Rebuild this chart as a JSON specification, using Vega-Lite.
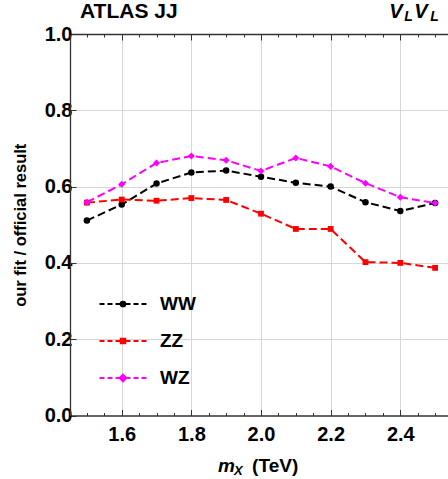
{
  "$schema": "https://vega.github.io/schema/vega-lite/v6.json",
  "width": 378,
  "height": 381.5,
  "autosize": "none",
  "padding": {"left": 70, "top": 34, "right": 0, "bottom": 64},
  "background": "white",
  "config": {"view": {"stroke": null}, "text": {"font": "Liberation Sans", "fontWeight": "bold", "color": "black"}},
  "data": {"values": [
    {"series": "WW", "mx": 1.5, "ratio": 0.511},
    {"series": "WW", "mx": 1.6, "ratio": 0.553},
    {"series": "WW", "mx": 1.7, "ratio": 0.608},
    {"series": "WW", "mx": 1.8, "ratio": 0.637},
    {"series": "WW", "mx": 1.9, "ratio": 0.642},
    {"series": "WW", "mx": 2.0, "ratio": 0.626},
    {"series": "WW", "mx": 2.1, "ratio": 0.610},
    {"series": "WW", "mx": 2.2, "ratio": 0.600},
    {"series": "WW", "mx": 2.3, "ratio": 0.559},
    {"series": "WW", "mx": 2.4, "ratio": 0.536},
    {"series": "WW", "mx": 2.5, "ratio": 0.557},
    {"series": "ZZ", "mx": 1.5, "ratio": 0.558},
    {"series": "ZZ", "mx": 1.6, "ratio": 0.566},
    {"series": "ZZ", "mx": 1.7, "ratio": 0.563},
    {"series": "ZZ", "mx": 1.8, "ratio": 0.570},
    {"series": "ZZ", "mx": 1.9, "ratio": 0.565},
    {"series": "ZZ", "mx": 2.0, "ratio": 0.529},
    {"series": "ZZ", "mx": 2.1, "ratio": 0.489},
    {"series": "ZZ", "mx": 2.2, "ratio": 0.489},
    {"series": "ZZ", "mx": 2.3, "ratio": 0.402},
    {"series": "ZZ", "mx": 2.4, "ratio": 0.400},
    {"series": "ZZ", "mx": 2.5, "ratio": 0.387},
    {"series": "WZ", "mx": 1.5, "ratio": 0.559},
    {"series": "WZ", "mx": 1.6, "ratio": 0.606},
    {"series": "WZ", "mx": 1.7, "ratio": 0.662},
    {"series": "WZ", "mx": 1.8, "ratio": 0.680},
    {"series": "WZ", "mx": 1.9, "ratio": 0.669},
    {"series": "WZ", "mx": 2.0, "ratio": 0.641},
    {"series": "WZ", "mx": 2.1, "ratio": 0.675},
    {"series": "WZ", "mx": 2.2, "ratio": 0.653},
    {"series": "WZ", "mx": 2.3, "ratio": 0.609},
    {"series": "WZ", "mx": 2.4, "ratio": 0.572},
    {"series": "WZ", "mx": 2.5, "ratio": 0.557}
  ]},
  "resolve": {"axis": {"x": "independent"}},
  "layer": [
    {
      "mark": {"type": "line", "strokeWidth": 2, "strokeDash": [8, 4]},
      "encoding": {
        "x": {"field": "mx", "type": "quantitative",
          "scale": {"domain": [1.4515, 2.537], "nice": false, "zero": false},
          "axis": {
            "orient": "bottom",
            "values": [1.5,1.55,1.6,1.65,1.7,1.75,1.8,1.85,1.9,1.95,2.0,2.05,2.1,2.15,2.2,2.25,2.3,2.35,2.4,2.45,2.5],
            "labelExpr": "abs(datum.value*5-round(datum.value*5))<0.001 ? format(datum.value,'.1f') : ''",
            "labelFont": "Liberation Sans", "labelFontSize": 20, "labelFontWeight": "bold", "labelColor": "black",
            "labelPadding": 15, "labelOverlap": false, "labelFlush": false,
            "tickSize": {"condition": {"test": "abs(datum.value*5-round(datum.value*5))<0.001", "value": -6}, "value": -3},
            "tickColor": "#333", "tickWidth": 1,
            "domainColor": "#333", "domainWidth": 1.3,
            "grid": true, "gridColor": "#d6d6d6", "gridWidth": 1,
            "gridOpacity": {"condition": {"test": "abs(datum.value*5-round(datum.value*5))<0.001", "value": 1}, "value": 0},
            "title": null
          }},
        "y": {"field": "ratio", "type": "quantitative",
          "scale": {"domain": [0, 1], "nice": false, "zero": false},
          "axis": {
            "orient": "left",
            "values": [0,0.05,0.1,0.15,0.2,0.25,0.3,0.35,0.4,0.45,0.5,0.55,0.6,0.65,0.7,0.75,0.8,0.85,0.9,0.95,1],
            "labelExpr": "abs(datum.value*5-round(datum.value*5))<0.001 ? format(datum.value,'.1f') : ''",
            "labelFont": "Liberation Sans", "labelFontSize": 20, "labelFontWeight": "bold", "labelColor": "black",
            "labelPadding": 4, "labelOverlap": false, "labelFlush": false,
            "tickSize": {"condition": {"test": "abs(datum.value*5-round(datum.value*5))<0.001", "value": -6}, "value": -3},
            "tickColor": "#333", "tickWidth": 1,
            "domainColor": "#333", "domainWidth": 1.3,
            "grid": true, "gridColor": "#d6d6d6", "gridWidth": 1,
            "gridOpacity": {"condition": {"test": "abs(datum.value*5-round(datum.value*5))<0.001 && datum.value>0.01 && datum.value<0.99", "value": 1}, "value": 0},
            "title": "our fit / official result",
            "titleFont": "Liberation Sans", "titleFontSize": 16.5, "titleFontWeight": "bold", "titleColor": "black",
            "titleX": -42, "titleY": 190.75, "titleAngle": -90, "titleBaseline": "bottom", "titleAlign": "center"
          }},
        "color": {"field": "series", "type": "nominal",
          "scale": {"domain": ["WW", "ZZ", "WZ"], "range": ["black", "#ff0000", "#ff00ff"]},
          "legend": {
            "orient": "none", "legendX": 40, "legendY": 257, "title": null, "padding": 0,
            "symbolSize": 552, "rowPadding": 14, "labelOffset": 24,
            "labelFont": "Liberation Sans", "labelFontWeight": "bold", "labelFontSize": 19, "labelColor": "black",
            "symbolStrokeWidth": 2,
            "encode": {"symbols": {"update": {
              "shape": {"signal": "datum.value === 'WW' ? 'M-2,0L-1.574,0M-1.319,0L-0.894,0M-0.638,0L-0.213,0M0.213,0L0.638,0M0.894,0L1.319,0M1.574,0L2,0M-0.2,0A0.2,0.2,0,1,1,0.2,0A0.2,0.2,0,1,1,-0.2,0Z' : datum.value === 'ZZ' ? 'M-2,0L-1.574,0M-1.319,0L-0.894,0M-0.638,0L-0.213,0M0.213,0L0.638,0M0.894,0L1.319,0M1.574,0L2,0M-0.19,-0.19L0.19,-0.19L0.19,0.19L-0.19,0.19Z' : 'M-2,0L-1.574,0M-1.319,0L-0.894,0M-0.638,0L-0.213,0M0.213,0L0.638,0M0.894,0L1.319,0M1.574,0L2,0M0,-0.28L0.28,0L0,0.28L-0.28,0Z'"},
              "fill": {"scale": "color", "field": "value"},
              "stroke": {"scale": "color", "field": "value"},
              "strokeWidth": {"value": 2},
              "strokeDash": {"value": []},
              "size": {"value": 552},
              "opacity": {"value": 1}
            }}}
          }}
      }
    },
    {
      "transform": [{"filter": "datum.series === 'WW'"}],
      "mark": {"type": "point", "filled": true, "opacity": 1, "size": 42, "shape": "circle"},
      "encoding": {
        "x": {"field": "mx", "type": "quantitative",
          "axis": {
            "orient": "top",
            "values": [1.5,1.55,1.6,1.65,1.7,1.75,1.8,1.85,1.9,1.95,2.0,2.05,2.1,2.15,2.2,2.25,2.3,2.35,2.4,2.45,2.5],
            "labels": false, "grid": false, "title": null,
            "tickSize": {"condition": {"test": "abs(datum.value*5-round(datum.value*5))<0.001", "value": -6}, "value": -3},
            "tickColor": "#333", "tickWidth": 1,
            "domainColor": "#333", "domainWidth": 1.3
          }},
        "y": {"field": "ratio", "type": "quantitative"},
        "color": {"field": "series", "type": "nominal"}
      }
    },
    {
      "transform": [{"filter": "datum.series === 'ZZ'"}],
      "mark": {"type": "point", "filled": true, "opacity": 1, "size": 34, "shape": "square"},
      "encoding": {
        "x": {"field": "mx", "type": "quantitative", "axis": null},
        "y": {"field": "ratio", "type": "quantitative"},
        "color": {"field": "series", "type": "nominal"}
      }
    },
    {
      "transform": [{"filter": "datum.series === 'WZ'"}],
      "mark": {"type": "point", "filled": true, "opacity": 1, "size": 50, "shape": "diamond"},
      "encoding": {
        "x": {"field": "mx", "type": "quantitative", "axis": null},
        "y": {"field": "ratio", "type": "quantitative"},
        "color": {"field": "series", "type": "nominal"}
      }
    },
    {
      "data": {"values": [{}]},
      "mark": {"type": "text", "align": "left", "baseline": "alphabetic", "fontSize": 21},
      "encoding": {
        "x": {"datum": 1.4802, "type": "quantitative", "axis": null},
        "y": {"datum": 1.043, "type": "quantitative"},
        "text": {"value": "ATLAS JJ"}
      }
    },
    {
      "data": {"values": [{}]},
      "mark": {"type": "text", "align": "left", "baseline": "alphabetic", "fontSize": 20, "fontStyle": "italic"},
      "encoding": {
        "x": {"datum": 2.368, "type": "quantitative", "axis": null},
        "y": {"datum": 1.043, "type": "quantitative"},
        "text": {"value": "V"}
      }
    },
    {
      "data": {"values": [{}]},
      "mark": {"type": "text", "align": "left", "baseline": "alphabetic", "fontSize": 14, "fontStyle": "italic"},
      "encoding": {
        "x": {"datum": 2.4113, "type": "quantitative", "axis": null},
        "y": {"datum": 1.033, "type": "quantitative"},
        "text": {"value": "L"}
      }
    },
    {
      "data": {"values": [{}]},
      "mark": {"type": "text", "align": "left", "baseline": "alphabetic", "fontSize": 20, "fontStyle": "italic"},
      "encoding": {
        "x": {"datum": 2.44, "type": "quantitative", "axis": null},
        "y": {"datum": 1.043, "type": "quantitative"},
        "text": {"value": "V"}
      }
    },
    {
      "data": {"values": [{}]},
      "mark": {"type": "text", "align": "left", "baseline": "alphabetic", "fontSize": 14, "fontStyle": "italic"},
      "encoding": {
        "x": {"datum": 2.486, "type": "quantitative", "axis": null},
        "y": {"datum": 1.033, "type": "quantitative"},
        "text": {"value": "L"}
      }
    },
    {
      "data": {"values": [{}]},
      "mark": {"type": "text", "align": "left", "baseline": "alphabetic", "fontSize": 19, "fontStyle": "italic"},
      "encoding": {
        "x": {"datum": 1.8768, "type": "quantitative", "axis": null},
        "y": {"datum": -0.1472, "type": "quantitative"},
        "text": {"value": "m"}
      }
    },
    {
      "data": {"values": [{}]},
      "mark": {"type": "text", "align": "left", "baseline": "alphabetic", "fontSize": 13, "fontStyle": "italic"},
      "encoding": {
        "x": {"datum": 1.9226, "type": "quantitative", "axis": null},
        "y": {"datum": -0.155, "type": "quantitative"},
        "text": {"value": "X"}
      }
    },
    {
      "data": {"values": [{}]},
      "mark": {"type": "text", "align": "left", "baseline": "alphabetic", "fontSize": 19},
      "encoding": {
        "x": {"datum": 1.9745, "type": "quantitative", "axis": null},
        "y": {"datum": -0.1472, "type": "quantitative"},
        "text": {"value": "(TeV)"}
      }
    }
  ]
}
